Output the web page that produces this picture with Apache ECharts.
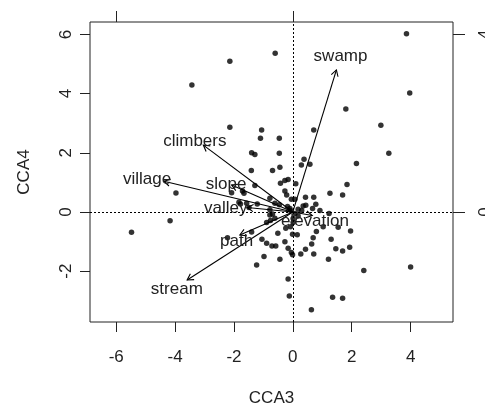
<!DOCTYPE html>
<html>
<head>
<meta charset="utf-8">
<script src="https://cdn.jsdelivr.net/npm/echarts@6/dist/echarts.min.js"></script>
<style>
  html, body { margin: 0; padding: 0; background: #fff; }
  #chart { width: 485px; height: 407px; }
</style>
</head>
<body>
<div id="chart"></div>
<script>
// site scores (CCA3, CCA4)
var siteX = [3.86, -0.60, -2.14, -3.43, 3.97, 1.80, 2.99, -2.14, -1.06, 0.71, -1.10, -0.46, -1.40, -1.29, -0.46,
  3.26, 0.38, 2.16, 0.29, 0.58, -0.44, -1.41, -0.69, -0.42, -0.27, -0.16, 0.10, -1.29, 1.84, -3.97,
  -2.08, -1.71, -1.66, -0.27, -0.21, 1.26, 1.69, -0.05, 0.07, -0.78, 0.43, 0.71, -0.61, -0.46, -0.10,
  0.35, 0.44, 0.78, 0.67, 0.92, -1.83, -1.57, -1.21, -1.78, -1.49, -0.78, 0.18, 1.23, -4.17, -5.48,
  -0.69, -0.61, -0.78, -0.89, -0.76, 0.01, -0.08, -0.24, 1.03, 1.54, 1.96, 0.80, -0.51, -1.40, -0.01,
  0.15, 0.69, 1.30, -2.22, -1.05, -0.89, -0.71, -0.58, -0.27, 0.64, -0.16, -0.05, 0.27, 0.43, 0.71,
  1.93, 1.46, 1.69, -0.98, -0.44, 1.21, -1.23, 2.41, 4.00, -0.16, -0.12, 1.35, 1.69, 0.63, -0.01,
  0.07, -0.08, 0.18, 0.01, -0.18, 0.30];
var siteY = [6.02, 5.36, 5.09, 4.29, 4.02, 3.48, 2.93, 2.86, 2.77, 2.77, 2.49, 2.49, 2.00, 1.94, 1.98,
  1.98, 1.78, 1.64, 1.59, 1.61, 1.51, 1.40, 1.40, 0.97, 1.06, 1.10, 0.95, 0.89, 0.93, 0.64,
  0.65, 0.71, 0.63, 0.71, 0.57, 0.63, 0.57, 0.43, 0.43, 0.46, 0.50, 0.50, 0.29, 0.24, 0.12,
  0.20, 0.23, 0.26, 0.12, 0.05, 0.33, 0.29, 0.27, 0.27, 0.15, 0.07, 0.09, -0.05, -0.30, -0.69,
  -0.07, -0.21, -0.10, -0.36, -0.29, -0.36, -0.50, -0.55, -0.50, -0.52, -0.64, -0.66, -0.72, -0.68, -0.75,
  -0.77, -0.87, -0.92, -0.87, -0.92, -1.06, -1.15, -1.15, -1.01, -1.08, -1.23, -1.37, -1.42, -1.26, -1.42,
  -1.19, -1.24, -1.32, -1.51, -1.60, -1.60, -1.79, -1.98, -1.86, -2.27, -2.84, -2.88, -2.92, -3.31, -1.45,
  -0.05, 0.05, -0.14, -0.22, 0.18, 0.05];

// environmental vectors
var envNames = ['swamp', 'climbers', 'village', 'slope', 'valley', 'path', 'stream', 'elevation'];
var envX = [1.48, -3.04, -4.38, -2.08, -1.55, -1.80, -3.59, 0.66];
var envY = [4.80, 2.26, 1.04, 0.91, 0.15, -0.78, -2.30, -0.12];
var labelX = [1.62, -3.33, -4.95, -2.27, -2.28, -1.91, -3.94, 0.75];
var labelY = [5.25, 2.38, 1.10, 0.95, 0.12, -0.98, -2.60, -0.32];

var xTicks = [-6, -4, -2, 0, 2, 4];
var yTicks = [-2, 0, 2, 4, 6];
var topTicks = [-6, 0];
var rightTicks = [0, 6];
var rightLabels = {0: '0', 6: '4'};

var font = 'Liberation Sans, Arial, Helvetica, sans-serif';
var chart = echarts.init(document.getElementById('chart'));

var sites = siteX.map(function (x, i) { return [x, siteY[i]]; });
var arrows = envX.map(function (x, i) { return [x, envY[i]]; });
var labels = labelX.map(function (x, i) { return [x, labelY[i], envNames[i]]; });

var noLine = { show: false, onZero: false };

var option = {
  animation: false,
  grid: {
    left: 90, right: 32, top: 22, bottom: 85,
    containLabel: false, outerBoundsMode: 'none',
    show: true, borderColor: '#222', borderWidth: 1, backgroundColor: '#fff'
  },
  xAxis: [{
    type: 'value', min: -6.89, max: 5.44, position: 'bottom',
    name: 'CCA3', nameLocation: 'middle', nameGap: 68,
    nameTextStyle: { fontFamily: font, fontSize: 17, color: '#222' },
    axisLine: noLine,
    splitLine: { show: false },
    axisTick: { show: true, customValues: xTicks, length: 10, lineStyle: { color: '#222' } },
    axisLabel: { customValues: xTicks, margin: 27, fontFamily: font, fontSize: 17, color: '#222' }
  }, {
    type: 'value', min: -6.89, max: 5.44, position: 'top',
    axisLine: noLine,
    splitLine: { show: false },
    axisTick: { show: true, customValues: topTicks, length: 11, lineStyle: { color: '#222' } },
    axisLabel: { show: false }
  }],
  yAxis: [{
    type: 'value', min: -3.72, max: 6.42, position: 'left',
    name: 'CCA4', nameLocation: 'middle', nameGap: 57, nameRotate: 90,
    nameTextStyle: { fontFamily: font, fontSize: 17, color: '#222' },
    axisLine: noLine,
    splitLine: { show: false },
    axisTick: { show: true, customValues: yTicks, length: 10, lineStyle: { color: '#222' } },
    axisLabel: { customValues: yTicks, rotate: 90, margin: 15, fontFamily: font, fontSize: 17, color: '#222' }
  }, {
    type: 'value', min: -3.72, max: 6.42, position: 'right',
    axisLine: noLine,
    splitLine: { show: false },
    axisTick: { show: true, customValues: rightTicks, length: 12, lineStyle: { color: '#222' } },
    axisLabel: {
      customValues: rightTicks, rotate: 90, margin: 24, fontFamily: font, fontSize: 17, color: '#222',
      formatter: function (v) { return rightLabels[v]; }
    }
  }],
  series: [{
    type: 'scatter',
    data: sites,
    symbol: 'circle',
    symbolSize: 5.5,
    itemStyle: { color: '#000' },
    z: 2,
    markLine: {
      silent: true,
      symbol: 'none',
      label: { show: false },
      lineStyle: { color: '#000', type: [2, 2], width: 1 },
      data: [{ xAxis: 0 }, { yAxis: 0 }]
    }
  }, {
    type: 'custom',
    data: arrows,
    z: 3,
    renderItem: function (params, api) {
      var p0 = api.coord([0, 0]);
      var p1 = api.coord([api.value(0), api.value(1)]);
      var a = Math.atan2(p1[1] - p0[1], p1[0] - p0[0]);
      var len = 7, spread = Math.PI / 6;
      var h1 = [p1[0] - len * Math.cos(a - spread), p1[1] - len * Math.sin(a - spread)];
      var h2 = [p1[0] - len * Math.cos(a + spread), p1[1] - len * Math.sin(a + spread)];
      var st = { stroke: '#000', lineWidth: 1.1, fill: null };
      return {
        type: 'group',
        children: [
          { type: 'line', shape: { x1: p0[0], y1: p0[1], x2: p1[0], y2: p1[1] }, style: st },
          { type: 'polyline', shape: { points: [h1, p1, h2] }, style: st }
        ]
      };
    }
  }, {
    type: 'custom',
    data: labels,
    z: 4,
    renderItem: function (params, api) {
      var p = api.coord([api.value(0), api.value(1)]);
      return {
        type: 'text',
        x: p[0], y: p[1],
        style: {
          text: labels[params.dataIndex][2],
          fontFamily: font, fontSize: 17, fill: '#222',
          align: 'center', verticalAlign: 'middle'
        }
      };
    }
  }]
};

chart.setOption(option);
</script>
</body>
</html>
